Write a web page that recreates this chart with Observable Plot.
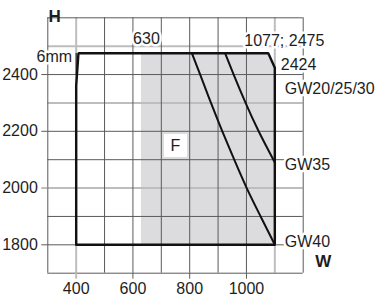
<!DOCTYPE html>
<html><head><meta charset="utf-8">
<script src="https://cdn.jsdelivr.net/npm/d3@7"></script>
<script src="https://cdn.jsdelivr.net/npm/@observablehq/plot@0.6"></script>
<style>
body{margin:0;background:#fff;}
</style>
</head><body><div id="chart"></div>
<script>
// grid / ticks
const gridW = [300,500,600,700,800,900,1000,1200];
const lightW = [400,1100];
const gridH = [1700,1800,1900,2100,2200,2400,2600];
const lightH = [2000,2300,2500];
const tickWdark = [600,800,1000];
const tickWlight = [400];
const tickHdark = [1800,2200,2400];
const tickHlight = [2000];

// envelope outline
const outlineW = [400,400,408,1077,1100,1100,400];
const outlineH = [1800,2360,2475,2475,2424,1800,1800];
// shaded field F
const areaW = [630,1077,1100];
const areaTop = [2475,2475,2424];
const areaBase = [1800,1800,1800];
// curves
const gw40W = [808,837,875,915,957,1001,1050,1100];
const gw40H = [2475,2400,2300,2200,2100,2000,1900,1800];
const gw35W = [925,955,997,1043,1100];
const gw35H = [2475,2400,2300,2200,2090];
// 6mm marker
const markW = [400,400];
const markH = [2475,2400];
// labels
const labelText = ["6mm","630","1077; 2475","2424","GW20/25/30","GW35","GW40"];
const labelW = [400,630,1077,1100,1100,1100,1100];
const labelH = [2475,2475,2475,2424,2424,2090,1800];
const fieldLabel = ["F"];
const fieldW = [750];
const fieldH = [2150];

const pts = (xs, ys) => xs.map((x, i) => ({x, y: ys[i]}));
const labels = labelText.map((t, i) => ({t, x: labelW[i], y: labelH[i]}));
const lab = (i, opts) => Plot.text([labels[i]], {x: "x", y: "y", text: "t", fontSize: 16, fill: "#1e1e1e",
  stroke: "white", strokeWidth: 5, ...opts});

const dark = "#5a5a5a", light = "#bdbdbd";
const fmt = d => String(d);

const chart = Plot.plot({
  width: 378, height: 302,
  marginLeft: 47.3, marginRight: 75.3, marginTop: 17.3, marginBottom: 29.3,
  x: {domain: [300, 1200]},
  y: {domain: [1700, 2600]},
  style: {fontFamily: "'Liberation Sans', Arial, sans-serif", fontSize: "16px", color: "#1e1e1e", background: "white"},
  marks: [
    Plot.areaY(areaW.map((x, i) => ({x, y1: areaBase[i], y2: areaTop[i]})), {x: "x", y1: "y1", y2: "y2", fill: "#dcdcde", curve: "linear"}),
    Plot.ruleX(lightW, {stroke: light, strokeWidth: 2}),
    Plot.ruleY(lightH, {stroke: light, strokeWidth: 2}),
    Plot.ruleX(gridW, {stroke: dark, strokeWidth: 1}),
    Plot.ruleY(gridH, {stroke: dark, strokeWidth: 1}),
    Plot.axisX(tickWdark, {tickSize: 6, tickPadding: 3, tickFormat: fmt, stroke: dark, fill: "#1e1e1e", fontSize: 16, label: null}),
    Plot.axisX(tickWlight, {tickSize: 6, tickPadding: 3, tickFormat: fmt, stroke: light, strokeWidth: 2, fill: "#1e1e1e", fontSize: 16, label: null}),
    Plot.axisY(tickHdark, {tickSize: 6, tickPadding: 4, tickFormat: fmt, stroke: dark, fill: "#1e1e1e", fontSize: 16, label: null}),
    Plot.axisY(tickHlight, {tickSize: 6, tickPadding: 4, tickFormat: fmt, stroke: light, strokeWidth: 2, fill: "#1e1e1e", fontSize: 16, label: null}),
    Plot.line(pts(markW, markH), {x: "x", y: "y", stroke: "#111", strokeWidth: 1}),
    Plot.line(pts(outlineW, outlineH), {x: "x", y: "y", stroke: "#111", strokeWidth: 2.4, strokeLinejoin: "miter"}),
    Plot.line(pts(gw40W, gw40H), {x: "x", y: "y", stroke: "#111", strokeWidth: 2, curve: "natural"}),
    Plot.line(pts(gw35W, gw35H), {x: "x", y: "y", stroke: "#111", strokeWidth: 2, curve: "natural"}),
    Plot.dot(fieldLabel.map((t, i) => ({t, x: fieldW[i], y: fieldH[i]})), {x: "x", y: "y", symbol: "square", r: 13, fill: "white", stroke: "none"}),
    Plot.text(fieldLabel.map((t, i) => ({t, x: fieldW[i], y: fieldH[i]})), {x: "x", y: "y", text: "t", fontSize: 16, fill: "#1e1e1e"}),
    lab(0, {textAnchor: "end", dx: -4, dy: 4}),
    lab(1, {textAnchor: "middle", dx: 5, dy: -14}),
    lab(2, {textAnchor: "middle", dx: 16, dy: -12}),
    lab(3, {textAnchor: "start", dx: 6, dy: -2.5}),
    lab(4, {textAnchor: "start", dx: 10, dy: 21}),
    lab(5, {textAnchor: "start", dx: 10, dy: 2}),
    lab(6, {textAnchor: "start", dx: 10, dy: -2.5}),
    Plot.text(["H"], {frameAnchor: "top-left", textAnchor: "start", dx: 0.7, dy: -8.3, fontWeight: "bold", fontSize: 17, fill: "#1e1e1e"}),
    Plot.text(["W"], {frameAnchor: "bottom-right", textAnchor: "middle", dx: 20, dy: -6.5, fontWeight: "bold", fontSize: 17, fill: "#1e1e1e"})
  ]
});
document.getElementById("chart").appendChild(chart);
</script>
</body></html>
